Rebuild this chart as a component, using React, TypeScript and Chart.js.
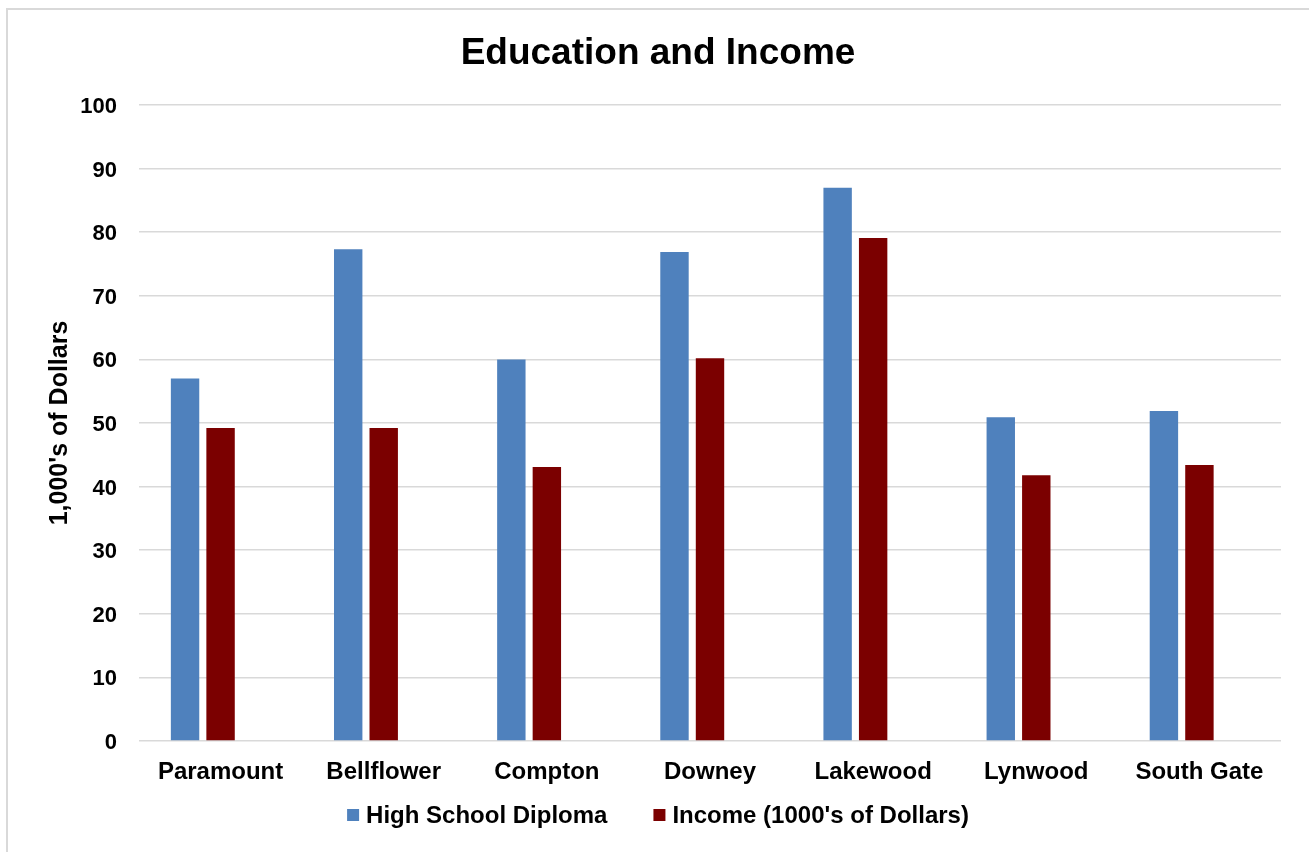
import { useEffect, useRef } from "react";
import { Chart, registerables } from "chart.js";

Chart.register(...registerables);

// Cities on the category axis
const categories = [
  "Paramount",
  "Bellflower",
  "Compton",
  "Downey",
  "Lakewood",
  "Lynwood",
  "South Gate",
];

// Share with a high school diploma
const diplomaValues = [57, 77.3, 60, 76.9, 87, 50.9, 51.9];

// Median income, thousands of dollars
const incomeValues = [49.2, 49.2, 43.1, 60.2, 79.1, 41.8, 43.4];

// Third, empty slot in every cluster (keeps the two bars left of the category centre)
const emptySlot = categories.map(() => null);

const seriesLabels = ["High School Diploma", "Income (1000's of Dollars)"];
const seriesColors = ["#4F81BD", "#7B0000"];

const yMin = 0;
const yMax = 100;
const yStep = 10;

const chartTitle = "Education and Income";
const yAxisTitle = "1,000's of Dollars";

const FONT = "'Liberation Sans', Arial, Helvetica, sans-serif";
const WIDTH = 1309;
const HEIGHT = 852;

// Legend drawn centred under the axis labels
const bottomLegend = {
  id: "bottomLegend",
  afterDraw(chart: any) {
    const ctx = chart.ctx as CanvasRenderingContext2D;
    const items = chart.data.datasets.filter((d: any) => d.label);
    const box = 12;
    const gap = 7;
    const spacing = 46;
    const centerX = 658;
    const centerY = 815;
    ctx.save();
    ctx.font = `bold 24px ${FONT}`;
    const widths = items.map((d: any) => ctx.measureText(d.label).width);
    const total =
      widths.reduce((s: number, w: number) => s + box + gap + w, 0) +
      spacing * (items.length - 1);
    let x = centerX - total / 2;
    ctx.textBaseline = "middle";
    ctx.textAlign = "left";
    items.forEach((d: any, i: number) => {
      ctx.fillStyle = d.backgroundColor;
      ctx.fillRect(x, centerY - box / 2, box, box);
      x += box + gap;
      ctx.fillStyle = "#000";
      ctx.fillText(d.label, x, centerY + 1);
      x += widths[i] + spacing;
    });
    ctx.restore();
  },
};

export default function App() {
  const canvasRef = useRef<HTMLCanvasElement | null>(null);

  useEffect(() => {
    if (!canvasRef.current) return;
    const chart = new Chart(canvasRef.current, {
      type: "bar",
      data: {
        labels: categories,
        datasets: [
          {
            label: seriesLabels[0],
            data: diplomaValues,
            backgroundColor: seriesColors[0],
            borderWidth: 0,
          },
          {
            label: seriesLabels[1],
            data: incomeValues,
            backgroundColor: seriesColors[1],
            borderWidth: 0,
          },
          {
            label: "",
            data: emptySlot,
            backgroundColor: "rgba(0,0,0,0)",
            borderWidth: 0,
          },
        ],
      },
      options: {
        responsive: false,
        animation: false,
        events: [],
        datasets: {
          bar: {
            categoryPercentage: 0.653,
            barPercentage: 0.8,
          },
        },
        layout: {
          padding: { left: 35, right: 28, top: 0, bottom: 0 },
        },
        plugins: {
          legend: { display: false },
          tooltip: { enabled: false },
          title: {
            display: true,
            text: chartTitle,
            color: "#000",
            font: { family: FONT, size: 37, weight: "bold", lineHeight: 1.2 },
            padding: { top: 32, bottom: 28.6 },
          },
        },
        scales: {
          x: {
            grid: { display: false, drawTicks: false },
            border: { display: false },
            ticks: {
              color: "#000",
              padding: 17,
              maxRotation: 0,
              autoSkip: false,
              font: { family: FONT, size: 24, weight: "bold" },
            },
            afterFit(scale: any) {
              scale.height = 111;
            },
          },
          y: {
            min: yMin,
            max: yMax,
            ticks: {
              stepSize: yStep,
              color: "#000",
              padding: 22,
              labelOffset: 2,
              font: { family: FONT, size: 22, weight: "bold" },
            },
            grid: {
              color: "#D9D9D9",
              lineWidth: 1.5,
              drawTicks: false,
            },
            border: { display: false },
            title: {
              display: true,
              text: yAxisTitle,
              color: "#000",
              padding: { top: 10, bottom: 0 },
              font: { family: FONT, size: 25, weight: "bold", lineHeight: 1.2 },
            },
            afterFit(scale: any) {
              scale.width = 104;
            },
          },
        },
      },
      plugins: [bottomLegend],
    });
    return () => chart.destroy();
  }, []);

  return (
    <div
      style={{
        position: "absolute",
        left: 0,
        top: 0,
        width: WIDTH,
        height: HEIGHT,
        overflow: "hidden",
        background: "#fff",
      }}
    >
      <div
        style={{
          position: "absolute",
          left: 6,
          top: 8,
          width: WIDTH + 40,
          height: HEIGHT + 40,
          borderLeft: "2px solid #D9D9D9",
          borderTop: "2px solid #D9D9D9",
        }}
      />
      <canvas
        ref={canvasRef}
        width={WIDTH}
        height={HEIGHT}
        style={{ position: "absolute", left: 0, top: 0, width: WIDTH, height: HEIGHT }}
      />
    </div>
  );
}
